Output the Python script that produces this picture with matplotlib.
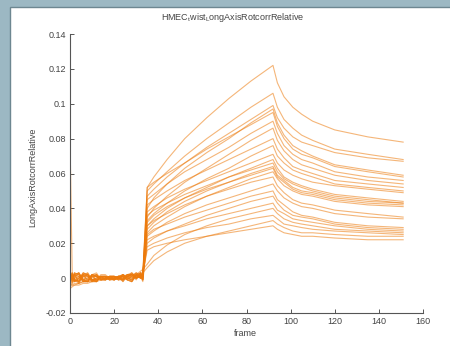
import numpy as np
import matplotlib
matplotlib.use("Agg")
import matplotlib.pyplot as plt
from matplotlib.patches import Rectangle

plt.rcParams['font.family'] = ['Liberation Sans', 'DejaVu Sans']
plt.rcParams['mathtext.fontset'] = 'custom'
plt.rcParams['mathtext.rm'] = 'Liberation Sans'

key_frames = [0, 1, 2, 4, 6, 8, 10, 12, 14, 16, 18, 20, 22, 24, 26, 28, 30, 32, 33,
              35, 38, 44, 52, 62, 72, 82, 92,
              94, 97, 101, 105, 110, 120, 135, 151]

# baseline (before stimulus), one value per trace
b0 = [0.002, -0.001, 0.003, 0.000, -0.003, 0.001, 0.002, -0.002, 0.003, -0.004, 0.081, 0.001,
      -0.002, 0.002, 0.000, -0.005, 0.003, -0.001, 0.002, -0.003, 0.001, -0.006, 0.002, -0.002]
b1 = [-0.001, 0.002, 0.000, 0.003, -0.002, -0.001, 0.003, 0.001, -0.002, -0.003, 0.003, -0.002,
      0.002, -0.001, 0.003, -0.004, 0.000, 0.002, -0.003, -0.004, 0.002, -0.005, -0.001, 0.001]
b2 = [0.001, -0.002, 0.002, -0.001, 0.001, 0.003, -0.002, 0.000, 0.002, -0.001, -0.002, 0.003,
      -0.001, 0.002, -0.002, -0.003, 0.003, -0.001, 0.000, -0.004, -0.001, -0.004, 0.002, -0.001]
b4 = [0.003, 0.000, -0.002, 0.001, 0.002, -0.003, 0.000, 0.003, 0.001, -0.002, -0.001, 0.002,
      -0.003, 0.003, -0.001, -0.003, 0.002, -0.002, 0.001, -0.003, -0.002, -0.004, 0.003, 0.000]
b6 = [-0.001, 0.003, 0.001, -0.002, 0.000, 0.001, 0.002, -0.001, -0.002, 0.002, 0.001, -0.001,
      0.002, -0.002, 0.003, -0.002, -0.001, 0.002, -0.002, -0.002, 0.003, -0.003, -0.001, 0.002]
b8 = [-0.002, 0.002, 0.001, -0.002, 0.000, 0.002, -0.002, 0.000, 0.003, -0.001, 0.002, -0.001,
      0.001, -0.002, 0.002, -0.002, -0.002, 0.003, -0.001, -0.002, 0.001, -0.003, -0.002, 0.002]
b10 = [0.002, -0.001, -0.002, 0.002, 0.001, -0.002, 0.001, 0.002, -0.001, 0.000, -0.002, 0.002,
       -0.001, 0.001, -0.001, -0.001, 0.002, -0.001, 0.002, -0.002, -0.001, -0.002, 0.001, -0.001]
b12 = [0.001, -0.002, 0.002, 0.001, -0.001, 0.000, 0.002, -0.002, -0.001, 0.002, -0.002, 0.003,
       0.000, 0.001, -0.002, -0.001, 0.001, 0.000, 0.002, -0.001, -0.001, -0.002, 0.001, -0.002]
b14 = [-0.001, 0.001, 0.000, -0.001, 0.002, 0.001, -0.001, 0.001, 0.000, -0.001, 0.001, -0.001,
       0.001, 0.000, 0.001, 0.000, -0.001, 0.001, -0.001, 0.000, 0.001, -0.001, 0.000, 0.001]
b16 = [0.000, 0.001, -0.001, 0.000, 0.002, -0.001, 0.000, 0.001, 0.000, -0.001, 0.001, 0.000,
       -0.001, 0.001, 0.000, 0.001, -0.001, 0.001, 0.000, 0.000, 0.001, -0.001, 0.000, 0.001]
b18 = [0.001, 0.000, 0.001, -0.001, 0.000, 0.001, 0.001, -0.001, 0.001, 0.000, 0.000, 0.001,
       0.000, -0.001, 0.000, 0.000, 0.001, 0.000, -0.001, 0.001, -0.001, 0.000, 0.001, 0.000]
b20 = [0.001, -0.001, 0.000, 0.001, -0.001, 0.001, -0.001, 0.000, 0.001, 0.000, -0.001, 0.001,
       0.000, -0.001, 0.001, 0.000, 0.001, -0.001, 0.000, 0.001, 0.000, 0.000, -0.001, 0.000]
b22 = [0.000, 0.001, 0.001, 0.000, 0.001, -0.001, 0.000, 0.001, -0.001, 0.001, 0.000, 0.000,
       0.001, 0.001, 0.000, -0.001, 0.000, 0.001, 0.001, 0.000, 0.001, -0.001, 0.000, 0.001]
b24 = [-0.001, 0.002, 0.001, -0.001, 0.000, 0.002, 0.001, -0.002, 0.000, 0.001, 0.002, -0.001,
       0.002, 0.000, -0.001, 0.002, 0.000, 0.001, -0.002, 0.000, 0.001, -0.001, 0.002, -0.001]
b26 = [0.001, 0.000, 0.002, 0.001, -0.001, 0.001, 0.000, 0.002, 0.001, -0.001, 0.000, 0.002,
       -0.001, 0.001, 0.002, 0.000, 0.002, -0.001, 0.001, 0.001, 0.000, 0.001, -0.001, 0.002]
b28 = [0.002, -0.001, 0.003, 0.002, -0.002, 0.000, 0.003, 0.001, -0.002, 0.002, 0.000, 0.002,
       -0.002, 0.003, 0.001, -0.001, 0.002, -0.002, 0.001, 0.002, -0.001, 0.000, 0.001, 0.002]
b30 = [0.000, 0.002, 0.001, 0.000, 0.002, 0.002, 0.000, 0.003, 0.001, 0.000, 0.002, -0.001,
       0.002, 0.000, 0.003, 0.001, 0.000, 0.002, 0.003, 0.000, 0.002, 0.001, 0.002, 0.000]
b32 = [0.002, 0.000, 0.002, 0.003, 0.000, 0.001, 0.002, 0.001, 0.003, 0.001, 0.000, 0.003,
       0.001, 0.002, 0.000, 0.003, 0.001, 0.000, 0.002, 0.001, 0.004, 0.000, 0.003, 0.001]
b33 = [0.000, 0.002, -0.001, 0.001, 0.003, -0.001, 0.001, 0.003, 0.000, -0.001, 0.002, 0.000,
       0.003, -0.001, 0.002, 0.001, -0.001, 0.003, 0.002, -0.002, 0.005, 0.002, 0.003, 0.003]

# rise phase
r35 = [0.052, 0.050, 0.047, 0.040, 0.052, 0.045, 0.035, 0.042, 0.033, 0.038, 0.030, 0.036,
       0.028, 0.032, 0.026, 0.030, 0.024, 0.025, 0.020, 0.022, 0.008, 0.018, 0.006, 0.016]
r38 = [0.058, 0.054, 0.051, 0.046, 0.055, 0.048, 0.040, 0.045, 0.037, 0.041, 0.034, 0.039,
       0.032, 0.036, 0.030, 0.033, 0.027, 0.028, 0.023, 0.024, 0.013, 0.020, 0.010, 0.018]
r44 = [0.068, 0.061, 0.058, 0.054, 0.060, 0.054, 0.047, 0.050, 0.043, 0.046, 0.040, 0.043,
       0.038, 0.041, 0.035, 0.037, 0.032, 0.031, 0.027, 0.027, 0.019, 0.023, 0.015, 0.020]
r52 = [0.080, 0.070, 0.066, 0.063, 0.066, 0.061, 0.055, 0.056, 0.050, 0.051, 0.046, 0.048,
       0.044, 0.046, 0.041, 0.042, 0.037, 0.035, 0.031, 0.030, 0.025, 0.026, 0.020, 0.022]
r62 = [0.092, 0.080, 0.075, 0.072, 0.074, 0.068, 0.063, 0.062, 0.057, 0.056, 0.052, 0.053,
       0.050, 0.051, 0.047, 0.047, 0.042, 0.039, 0.036, 0.034, 0.030, 0.029, 0.024, 0.024]
r72 = [0.103, 0.089, 0.083, 0.080, 0.081, 0.075, 0.071, 0.068, 0.063, 0.061, 0.058, 0.058,
       0.055, 0.055, 0.052, 0.051, 0.046, 0.043, 0.040, 0.037, 0.034, 0.031, 0.027, 0.026]
r82 = [0.113, 0.098, 0.091, 0.089, 0.088, 0.083, 0.079, 0.074, 0.070, 0.066, 0.063, 0.062,
       0.060, 0.059, 0.057, 0.055, 0.050, 0.047, 0.044, 0.040, 0.037, 0.034, 0.030, 0.028]
r92 = [0.122, 0.106, 0.099, 0.097, 0.095, 0.090, 0.086, 0.080, 0.076, 0.071, 0.068, 0.066,
       0.064, 0.063, 0.061, 0.058, 0.054, 0.050, 0.047, 0.043, 0.040, 0.036, 0.033, 0.030]

# decay phase
d94 = [0.112, 0.098, 0.092, 0.089, 0.087, 0.083, 0.079, 0.074, 0.070, 0.066, 0.063, 0.061,
       0.059, 0.058, 0.057, 0.053, 0.050, 0.045, 0.043, 0.039, 0.037, 0.034, 0.031, 0.028]
d97 = [0.104, 0.091, 0.086, 0.082, 0.080, 0.076, 0.073, 0.069, 0.066, 0.062, 0.058, 0.057,
       0.056, 0.055, 0.053, 0.049, 0.046, 0.042, 0.039, 0.037, 0.034, 0.031, 0.029, 0.026]
d101 = [0.098, 0.086, 0.081, 0.076, 0.074, 0.071, 0.068, 0.064, 0.062, 0.059, 0.055, 0.054,
        0.052, 0.051, 0.050, 0.045, 0.043, 0.038, 0.036, 0.034, 0.032, 0.030, 0.027, 0.025]
d105 = [0.094, 0.082, 0.078, 0.073, 0.071, 0.068, 0.065, 0.062, 0.060, 0.057, 0.053, 0.052,
        0.050, 0.049, 0.048, 0.043, 0.041, 0.036, 0.035, 0.033, 0.031, 0.029, 0.026, 0.024]
d110 = [0.090, 0.079, 0.076, 0.070, 0.069, 0.066, 0.063, 0.060, 0.058, 0.055, 0.051, 0.050,
        0.049, 0.048, 0.047, 0.042, 0.040, 0.035, 0.034, 0.032, 0.030, 0.028, 0.026, 0.024]
d120 = [0.085, 0.074, 0.072, 0.065, 0.064, 0.061, 0.059, 0.056, 0.054, 0.053, 0.048, 0.047,
        0.046, 0.045, 0.044, 0.039, 0.037, 0.032, 0.031, 0.030, 0.028, 0.027, 0.025, 0.023]
d135 = [0.081, 0.071, 0.069, 0.062, 0.061, 0.058, 0.056, 0.054, 0.052, 0.051, 0.046, 0.045,
        0.044, 0.043, 0.042, 0.037, 0.035, 0.030, 0.029, 0.028, 0.027, 0.026, 0.024, 0.022]
d151 = [0.078, 0.068, 0.067, 0.059, 0.058, 0.056, 0.054, 0.052, 0.050, 0.049, 0.044, 0.043,
        0.043, 0.042, 0.041, 0.035, 0.034, 0.029, 0.028, 0.027, 0.026, 0.025, 0.024, 0.022]

curves = np.array([b0, b1, b2, b4, b6, b8, b10, b12, b14, b16, b18, b20, b22, b24, b26,
                   b28, b30, b32, b33,
                   r35, r38, r44, r52, r62, r72, r82, r92,
                   d94, d97, d101, d105, d110, d120, d135, d151]).T

fig = plt.figure(figsize=(4.5, 3.46), dpi=100, facecolor='#9cb8c3')
# white panel behind the axes
fig.patches.append(Rectangle((10 / 450, -0.01), 1.0, (346 - 7) / 346 + 0.01,
                             transform=fig.transFigure, facecolor='white',
                             edgecolor='#6d8791', linewidth=1.0, zorder=-10))

ax = fig.add_axes([70 / 450, 1 - 313 / 346, 353 / 450, (313 - 34) / 346])
ax.set_zorder(5)
ax.patch.set_alpha(0)

for c in curves:
    ax.plot(key_frames, c, color='#ec7a0c', alpha=0.55, linewidth=0.8)

ax.set_xlim(0, 160)
ax.set_ylim(-0.02, 0.14)
ax.set_xticks(range(0, 161, 20))
ax.set_yticks([-0.02, 0, 0.02, 0.04, 0.06, 0.08, 0.1, 0.12, 0.14])
ax.set_yticklabels(['-0.02', '0', '0.02', '0.04', '0.06', '0.08', '0.1', '0.12', '0.14'])
ax.spines['top'].set_visible(False)
ax.spines['right'].set_visible(False)
for s in ['left', 'bottom']:
    ax.spines[s].set_color('#555555')
    ax.spines[s].set_linewidth(0.8)
ax.tick_params(direction='in', length=3, width=0.7, color='#555555',
               labelsize=6.5, labelcolor='#444444', pad=3)

fig.text(233 / 450, 1 - 18 / 346,
         r'HMEC$_\mathrm{t}$wist$_\mathrm{L}$ongAxisRotcorrRelative',
         ha='center', va='center', fontsize=6.5, color='#444444')
fig.text(33 / 450, 1 - 177 / 346, 'LongAxisRotcorrRelative', rotation=90,
         ha='center', va='center', fontsize=6.5, color='#444444')
fig.text(245 / 450, 1 - 334 / 346, 'frame', ha='center', va='center',
         fontsize=6.5, color='#444444')

fig.savefig('out.png', dpi=100, facecolor=fig.get_facecolor())
